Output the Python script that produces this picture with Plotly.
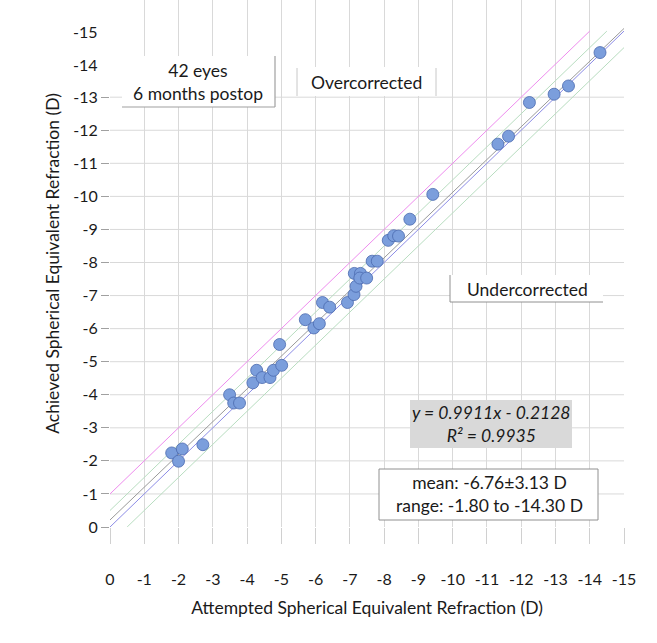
import plotly.graph_objects as go

# Data (attempted vs achieved spherical equivalent, D)
attempted = [-1.80, -2.11, -2.00, -2.71, -3.49, -3.61, -3.78, -4.17, -4.28, -4.44,
             -4.67, -4.77, -5.01, -4.95, -5.70, -5.95, -6.11, -6.20, -6.41, -6.93,
             -7.12, -7.18, -7.13, -7.31, -7.29, -7.49, -7.65, -7.80, -8.12, -8.28,
             -8.42, -8.75, -9.42, -11.32, -11.63, -12.24, -12.96, -13.38, -14.30]
achieved = [-2.24, -2.36, -1.99, -2.49, -4.00, -3.75, -3.75, -4.36, -4.74, -4.52,
            -4.52, -4.74, -4.89, -5.52, -6.27, -6.02, -6.15, -6.79, -6.65, -6.79,
            -7.03, -7.28, -7.67, -7.67, -7.53, -7.53, -8.04, -8.04, -8.67, -8.81,
            -8.80, -9.31, -10.06, -11.58, -11.82, -12.84, -13.09, -13.34, -14.35]

slope, intercept = 0.9911, -0.2128
ref_offsets = [-1.0, -0.5, 0.0, 0.5]
ref_colors = ["#ee8cee", "#b8ddc0", "#8c8ce6", "#b8ddc0"]
x_tick_vals = list(range(0, -16, -1))
x_tick_text = [str(v) for v in x_tick_vals]
y_tick_vals = list(range(0, -14, -1))
y_tick_text = [str(v) for v in y_tick_vals]
y_extra_labels = [-14, -15]
hgrid_vals = list(range(-1, -14, -1))

FONT = "Lato"
TXT = 17.5
fig = go.Figure()

# reference lines y = x + offset, clipped to the 0..-15 box
for off, col in zip(ref_offsets, ref_colors):
    x0 = 0 if off <= 0 else -off
    x1 = -15 - off if off < 0 else -15
    fig.add_trace(go.Scatter(x=[x0, x1], y=[x0 + off, x1 + off], mode="lines",
                             line=dict(color=col, width=1), hoverinfo="skip",
                             showlegend=False))

# trend line
fig.add_trace(go.Scatter(x=[0, -15], y=[intercept, slope * -15 + intercept], mode="lines",
                         line=dict(color="#9a9a9a", width=1), showlegend=False))

fig.add_trace(go.Scatter(x=attempted, y=achieved, mode="markers",
                         marker=dict(size=12, color="#7b9edc",
                                     line=dict(color="#4a6aae", width=0.8)),
                         showlegend=False))

W, H = 657, 643
L, R, T, B = 110, 33, 0, 116


def px(x):
    return (x - L) / (W - L - R)


def py(y):
    return 1 - (y - T) / (H - T - B)


shapes = []
for g in hgrid_vals:
    shapes.append(dict(type="line", xref="paper", yref="y", x0=0, x1=1, y0=g, y1=g,
                       line=dict(color="#d9d9d9", width=1), layer="below"))
# 42 eyes box: white with right/bottom edge
shapes.append(dict(type="rect", xref="paper", yref="paper", x0=px(122), x1=px(275),
                   y0=py(107), y1=py(56), fillcolor="white", line=dict(width=0), layer="above"))
shapes.append(dict(type="line", xref="paper", yref="paper", x0=px(275), x1=px(275),
                   y0=py(107), y1=py(56), line=dict(color="#a0a0a0", width=1.2)))
shapes.append(dict(type="line", xref="paper", yref="paper", x0=px(122), x1=px(275),
                   y0=py(107), y1=py(107), line=dict(color="#a0a0a0", width=1.2)))
# Overcorrected box
shapes.append(dict(type="rect", xref="paper", yref="paper", x0=px(297), x1=px(436),
                   y0=py(96), y1=py(67), fillcolor="white", line=dict(width=0), layer="above"))
shapes.append(dict(type="line", xref="paper", yref="paper", x0=px(297), x1=px(297),
                   y0=py(96), y1=py(68), line=dict(color="#c8c8c8", width=1)))
shapes.append(dict(type="line", xref="paper", yref="paper", x0=px(436), x1=px(436),
                   y0=py(96), y1=py(68), line=dict(color="#c8c8c8", width=1)))
# Undercorrected box
shapes.append(dict(type="rect", xref="paper", yref="paper", x0=px(450), x1=px(603),
                   y0=py(302), y1=py(275), fillcolor="white", line=dict(width=0), layer="above"))
shapes.append(dict(type="line", xref="paper", yref="paper", x0=px(450), x1=px(450),
                   y0=py(302), y1=py(275), line=dict(color="#909090", width=1)))
shapes.append(dict(type="line", xref="paper", yref="paper", x0=px(450), x1=px(603),
                   y0=py(302), y1=py(302), line=dict(color="#909090", width=1)))
# equation box
shapes.append(dict(type="rect", xref="paper", yref="paper", x0=px(410), x1=px(572),
                   y0=py(448), y1=py(400), fillcolor="#d9d9d9", line=dict(width=0), layer="above"))
# stats box
shapes.append(dict(type="rect", xref="paper", yref="paper", x0=px(379), x1=px(598),
                   y0=py(520), y1=py(469), fillcolor="white",
                   line=dict(color="#909090", width=1), layer="above"))


def ann(text, x, y):
    return dict(text=text, x=px(x), y=py(y), xref="paper", yref="paper",
                xanchor="center", yanchor="middle", showarrow=False,
                font=dict(family=FONT, size=TXT, color="#1a1a1a"))


annotations = [
    ann("42 eyes<br>6 months postop", 198, 82),
    ann("Overcorrected", 366, 82),
    ann("Undercorrected", 527, 289),
    ann("<i>y = 0.9911x - 0.2128<br>R² = 0.9935</i>", 491, 424),
    ann("mean: -6.76±3.13 D<br>range: -1.80 to -14.30 D", 489, 494),
]
for v in y_extra_labels:
    annotations.append(dict(text=str(v), x=0, y=v, xref="paper", yref="y",
                            xanchor="right", yanchor="middle", xshift=-10,
                            showarrow=False, font=dict(family=FONT, size=16, color="#1a1a1a")))

fig.update_layout(
    width=W, height=H, margin=dict(l=L, r=R, t=T, b=B),
    paper_bgcolor="white", plot_bgcolor="white",
    font=dict(family=FONT, size=16, color="#1a1a1a"),
    shapes=shapes, annotations=annotations,
    xaxis=dict(range=[0, -15], tickvals=x_tick_vals, ticktext=x_tick_text,
               showgrid=True, gridcolor="#d9d9d9", gridwidth=1, zeroline=False,
               ticks="outside", ticklen=16, tickcolor="#d0d0d0", tickwidth=1,
               ticklabelstandoff=22, showline=False,
               title=dict(text="Attempted Spherical Equivalent Refraction (D)",
                          font=dict(family=FONT, size=TXT), standoff=14)),
    yaxis=dict(range=[0, -15.94], tickvals=y_tick_vals, ticktext=y_tick_text,
               showgrid=False, zeroline=False,
               ticks="outside", ticklen=8, tickcolor="#a0a0a0", tickwidth=1,
               showline=False,
               title=dict(text="Achieved Spherical Equivalent Refraction (D)",
                          font=dict(family=FONT, size=TXT), standoff=9)),
)

fig.write_html("out.html", config={"displayModeBar": False},
               post_script="document.body.style.margin='0px';")
